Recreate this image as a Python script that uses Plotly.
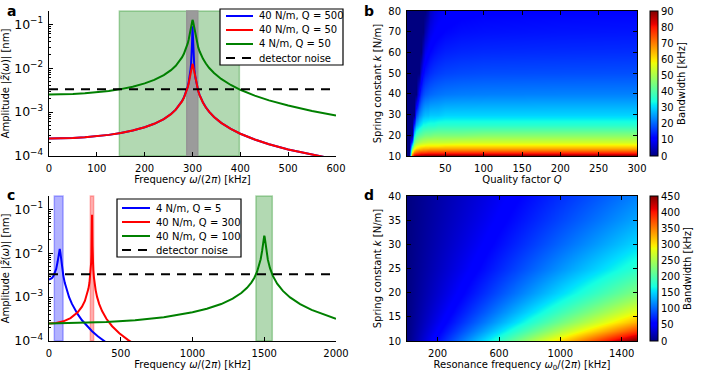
import plotly.graph_objects as go

# ---- panel a: response curves, resonance 300 kHz ----
freq_a = [0, 25, 50, 75, 100, 125, 150, 175, 200, 220, 240, 255, 265, 272, 278, 282, 285, 288, 290, 292, 294, 296, 297, 298,
          299, 300, 301, 302, 303, 304, 306, 308, 310, 312, 315, 318, 322, 328, 335, 345, 360, 380, 400, 430, 460, 500, 550, 600]
amp_a_k40_q500 = [2.5e-4, 2.517e-4, 2.571e-4, 2.667e-4, 2.813e-4, 3.025e-4, 3.333e-4, 3.79e-4, 4.5e-4, 5.409e-4, 6.944e-4,
                  9.009e-4, 1.138e-3, 1.404e-3, 1.769e-3, 2.148e-3, 2.564e-3, 3.188e-3, 3.809e-3, 4.749e-3, 6.305e-3, 9.409e-3,
                  1.25e-2, 1.86e-2, 3.594e-2, 9.0e-2, 3.585e-2, 1.848e-2, 1.238e-2, 9.29e-3, 6.18e-3, 4.623e-3, 3.687e-3,
                  3.063e-3, 2.439e-3, 2.022e-3, 1.644e-3, 1.28e-3, 1.012e-3, 7.752e-4, 5.682e-4, 4.136e-4, 3.214e-4, 2.371e-4,
                  1.85e-4, 1.406e-4, 1.059e-4, 8.333e-5]
amp_a_k40_q50 = [2.5e-4, 2.517e-4, 2.571e-4, 2.667e-4, 2.813e-4, 3.025e-4, 3.333e-4, 3.79e-4, 4.5e-4, 5.407e-4, 6.937e-4,
                 8.99e-4, 1.134e-3, 1.397e-3, 1.754e-3, 2.12e-3, 2.517e-3, 3.097e-3, 3.656e-3, 4.457e-3, 5.659e-3, 7.569e-3,
                 8.906e-3, 1.046e-2, 1.19e-2, 1.25e-2, 1.182e-2, 1.034e-2, 8.77e-3, 7.434e-3, 5.524e-3, 4.325e-3, 3.528e-3,
                 2.969e-3, 2.389e-3, 1.994e-3, 1.628e-3, 1.272e-3, 1.008e-3, 7.733e-4, 5.673e-4, 4.136e-4, 3.214e-4, 2.371e-4,
                 1.85e-4, 1.406e-4, 1.059e-4, 8.333e-5]
amp_a_k4_q50 = [2.5e-3, 2.517e-3, 2.571e-3, 2.667e-3, 2.813e-3, 3.025e-3, 3.333e-3, 3.79e-3, 4.5e-3, 5.407e-3, 6.937e-3,
                8.99e-3, 1.134e-2, 1.397e-2, 1.754e-2, 2.12e-2, 2.517e-2, 3.097e-2, 3.656e-2, 4.457e-2, 5.659e-2, 7.569e-2,
                8.906e-2, 1.046e-1, 1.19e-1, 1.25e-1, 1.182e-1, 1.034e-1, 8.77e-2, 7.434e-2, 5.524e-2, 4.325e-2, 3.528e-2,
                2.969e-2, 2.389e-2, 1.994e-2, 1.628e-2, 1.272e-2, 1.008e-2, 7.733e-3, 5.673e-3, 4.136e-3, 3.214e-3, 2.371e-3,
                1.85e-3, 1.406e-3, 1.059e-3, 8.333e-4]
labels_a = ["40 N/m, Q = 500", "40 N/m, Q = 50", "4 N/m, Q = 50"]
band_a_lo = [147, 288]
band_a_hi = [398, 311]

# ---- panel c: three different cantilevers ----
freq_c_blue = [0, 10, 20, 30, 40, 50, 60, 65, 70, 75, 80, 85, 90, 100, 110, 125, 140, 160, 180, 200, 230, 260, 300, 340, 380, 420]
amp_c_blue = [2.5e-3, 2.544e-3, 2.687e-3, 2.963e-3, 3.456e-3, 4.376e-3, 6.346e-3, 8.243e-3, 1.102e-2, 1.25e-2, 9.844e-3,
              6.873e-3, 4.988e-3, 3.041e-3, 2.105e-3, 1.382e-3, 9.951e-4, 6.99e-4, 5.226e-4, 4.075e-4, 2.967e-4, 2.265e-4,
              1.664e-4, 1.277e-4, 1.012e-4, 8.23e-5]
freq_c_red = [0, 50, 100, 150, 200, 230, 250, 265, 275, 282, 287, 291, 294, 296, 297.5, 298.5, 299.3, 300, 300.7, 301.5, 302.5,
              304, 306, 309, 313, 318, 325, 335, 350, 370, 400, 440, 490, 550, 600]
amp_c_red = [2.5e-4, 2.57e-4, 2.81e-4, 3.33e-4, 4.5e-4, 6.06e-4, 8.18e-4, 1.14e-3, 1.56e-3, 2.15e-3, 2.95e-3, 4.22e-3, 6.29e-3,
             9.37e-3, 1.48e-2, 2.38e-2, 4.37e-2, 7.5e-2, 4.35e-2, 2.37e-2, 1.46e-2, 9.24e-3, 6.17e-3, 4.1e-3, 2.82e-3, 2.02e-3,
             1.44e-3, 1.01e-3, 6.92e-4, 4.8e-4, 3.21e-4, 2.17e-4, 1.5e-4, 1.06e-4, 8.33e-5]
freq_c_green = [0, 200, 400, 600, 800, 1000, 1100, 1200, 1280, 1340, 1380, 1410, 1430, 1450, 1465, 1475, 1485, 1492, 1497, 1500,
                1503, 1508, 1515, 1525, 1540, 1560, 1590, 1630, 1680, 1750, 1830, 1920, 2000]
amp_c_green = [2.5e-4, 2.55e-4, 2.69e-4, 2.98e-4, 3.49e-4, 4.5e-4, 5.41e-4, 6.94e-4, 9.19e-4, 1.24e-3, 1.62e-3, 2.14e-3, 2.73e-3,
               3.77e-3, 5.3e-3, 7.25e-3, 1.12e-2, 1.72e-2, 2.33e-2, 2.5e-2, 2.32e-2, 1.7e-2, 1.11e-2, 7.12e-3, 4.54e-3, 3.04e-3,
               2.02e-3, 1.38e-3, 9.82e-4, 6.92e-4, 5.12e-4, 3.92e-4, 3.21e-4]
labels_c = ["4 N/m, Q = 5", "40 N/m, Q = 300", "40 N/m, Q = 100"]
band_c_lo = [37, 288, 1442]
band_c_hi = [98, 311, 1556]

detector_noise = 3.3e-3

# ---- panel b: bandwidth [kHz] vs quality factor and spring constant ----
q_factor = [0, 3, 6, 9, 12, 15, 18, 21, 24, 27, 30, 35, 40, 50, 70, 100, 200, 300]
k_b = [10, 11, 12, 13, 14, 15, 17, 20, 25, 30, 40, 50, 60, 70, 80]
bw_b = [
    [0, 0, 77, 86, 89, 90, 90, 91, 91, 91, 91, 92, 92, 92, 92, 92, 92, 92],
    [0, 0, 67, 77, 80, 81, 82, 82, 83, 83, 83, 83, 83, 83, 83, 83, 83, 83],
    [0, 0, 58, 69, 72, 74, 75, 75, 75, 76, 76, 76, 76, 76, 76, 76, 76, 76],
    [0, 0, 50, 62, 66, 68, 68, 69, 69, 70, 70, 70, 70, 70, 70, 70, 70, 70],
    [0, 0, 42, 56, 60, 62, 63, 64, 64, 64, 65, 65, 65, 65, 65, 65, 65, 65],
    [0, 0, 34, 51, 56, 58, 59, 59, 60, 60, 60, 60, 60, 61, 61, 61, 61, 61],
    [0, 0, 19, 42, 47, 50, 51, 52, 52, 53, 53, 53, 53, 53, 54, 54, 54, 54],
    [0, 0, 0, 31, 38, 41, 42, 43, 44, 44, 44, 45, 45, 45, 45, 46, 46, 46],
    [0, 0, 0, 15, 26, 30, 32, 34, 34, 35, 35, 35, 36, 36, 36, 36, 36, 36],
    [0, 0, 0, 0, 17, 23, 25, 27, 28, 28, 29, 29, 29, 30, 30, 30, 30, 30],
    [0, 0, 0, 0, 0, 10.8, 15.4, 17.7, 19.0, 19.8, 20.4, 21.0, 21.4, 21.9, 22.3, 22.5, 22.7, 22.7],
    [0, 0, 0, 0, 0, 0, 7.3, 11.3, 13.2, 14.4, 15.2, 16.1, 16.6, 17.2, 17.7, 18.0, 18.1, 18.2],
    [0, 0, 0, 0, 0, 0, 0, 5.1, 8.6, 10.3, 11.4, 12.5, 13.2, 14.0, 14.6, 14.9, 15.1, 15.2],
    [0, 0, 0, 0, 0, 0, 0, 0, 3.5, 6.7, 8.3, 9.8, 10.6, 11.5, 12.3, 12.6, 12.9, 13.0],
    [0, 0, 0, 0, 0, 0, 0, 0, 0, 2.4, 5.4, 7.5, 8.6, 9.7, 10.6, 11.0, 11.3, 11.4],
]

# ---- panel d: bandwidth [kHz] vs resonance frequency and spring constant ----
f_res = [0, 250, 500, 750, 1000, 1250, 1500]
k_d = [10, 12, 14, 16, 18, 20, 25, 30, 35, 40]
bw_d = [
    [0, 76.7, 153.3, 230.0, 306.6, 383.3, 459.9],
    [0, 63.7, 127.3, 191.0, 254.6, 318.3, 381.9],
    [0, 54.4, 108.9, 163.3, 217.7, 272.1, 326.6],
    [0, 47.6, 95.1, 142.7, 190.2, 237.8, 285.3],
    [0, 42.2, 84.5, 126.7, 168.9, 211.1, 253.4],
    [0, 38.0, 76.0, 113.9, 151.9, 189.9, 227.9],
    [0, 30.4, 60.7, 91.1, 121.4, 151.8, 182.1],
    [0, 25.3, 50.6, 75.8, 101.1, 126.4, 151.7],
    [0, 21.7, 43.4, 65.0, 86.7, 108.4, 130.1],
    [0, 19.0, 38.0, 56.9, 75.9, 94.9, 113.9],
]

FONT = "DejaVu Sans"
W, H = 708, 375
BLUE, RED, GREEN = "#0000ff", "#ff0000", "#008000"
NOISE_DASH = "9px,7px"
JET = [[0, "rgb(0,0,128)"], [0.11, "rgb(0,0,255)"], [0.125, "rgb(0,0,255)"], [0.34, "rgb(0,219,255)"],
       [0.35, "rgb(0,230,247)"], [0.375, "rgb(21,255,226)"], [0.64, "rgb(239,255,8)"], [0.65, "rgb(247,245,0)"],
       [0.66, "rgb(255,236,0)"], [0.89, "rgb(255,19,0)"], [0.91, "rgb(232,0,0)"], [1, "rgb(128,0,0)"]]


def px_x(x0, x1):
    return [x0 / W, x1 / W]


def px_y(y_top, y_bot):
    return [1 - y_bot / H, 1 - y_top / H]


fig = go.Figure()

# panel a curves
for y, color in zip([amp_a_k40_q500, amp_a_k40_q50, amp_a_k4_q50], [BLUE, RED, GREEN]):
    fig.add_trace(go.Scatter(x=freq_a, y=y, mode="lines", line=dict(color=color, width=2), xaxis="x", yaxis="y"))
fig.add_trace(go.Scatter(x=[0, 600], y=[detector_noise, detector_noise], mode="lines",
                         line=dict(color="black", width=2, dash=NOISE_DASH), xaxis="x", yaxis="y"))

# panel c curves
for f, y, color in zip([freq_c_blue, freq_c_red, freq_c_green], [amp_c_blue, amp_c_red, amp_c_green], [BLUE, RED, GREEN]):
    fig.add_trace(go.Scatter(x=f, y=y, mode="lines", line=dict(color=color, width=2), xaxis="x3", yaxis="y3"))
fig.add_trace(go.Scatter(x=[0, 2000], y=[detector_noise, detector_noise], mode="lines",
                         line=dict(color="black", width=2, dash=NOISE_DASH), xaxis="x3", yaxis="y3"))

cbar = dict(thickness=8, lenmode="pixels", len=145, xref="paper", x=650 / W, xanchor="left", xpad=0, ypad=0,
            outlinecolor="black", outlinewidth=1, ticks="", tickfont=dict(family=FONT, size=10, color="black"),
            title=dict(text="Bandwidth [kHz]", side="right", font=dict(family=FONT, size=10, color="black")))

fig.add_trace(go.Heatmap(x=q_factor, y=k_b, z=bw_b, xaxis="x2", yaxis="y2", zsmooth="best", colorscale=JET,
                         zmin=0, zmax=90,
                         colorbar=dict(cbar, y=1 - 83.5 / H, yanchor="middle", tickvals=list(range(0, 91, 10)))))
fig.add_trace(go.Heatmap(x=f_res, y=k_d, z=bw_d, xaxis="x4", yaxis="y4", zsmooth="best", colorscale=JET,
                         zmin=0, zmax=450,
                         colorbar=dict(cbar, y=1 - 268.5 / H, yanchor="middle", tickvals=list(range(0, 451, 50)))))

# bands where the signal exceeds the detector noise
shapes = []
band_a_fill = ["rgba(0,128,0,0.3)", "rgb(155,155,155)"]
band_a_line = ["rgba(0,128,0,0.3)", "rgb(150,150,150)"]
for lo, hi, fill, edge in zip(band_a_lo, band_a_hi, band_a_fill, band_a_line):
    shapes.append(dict(type="rect", xref="x", yref="y domain", x0=lo, x1=hi, y0=0, y1=1, layer="below",
                       fillcolor=fill, line=dict(color=edge, width=1.5)))
for lo, hi, fill in zip(band_c_lo, band_c_hi, ["rgba(0,0,255,0.3)", "rgba(255,0,0,0.3)", "rgba(0,128,0,0.3)"]):
    shapes.append(dict(type="rect", xref="x3", yref="y3 domain", x0=lo, x1=hi, y0=0, y1=1, layer="below",
                       fillcolor=fill, line=dict(color=fill, width=1.5)))

tick_font = dict(family=FONT, size=10, color="black")
title_font = dict(family=FONT, size=10, color="black")
common = dict(showline=True, linecolor="black", linewidth=1, ticks="inside", ticklen=4, tickcolor="black",
              showgrid=False, zeroline=False, tickfont=tick_font, ticklabelstandoff=3)
log_y = dict(common, type="log", range=[-4, -0.699], tickmode="linear", tick0=0, dtick=1, exponentformat="power",
             minor=dict(ticks="inside", ticklen=2, tickcolor="black", showgrid=False),
             title=dict(text="Amplitude |<i>z̃</i>(<i>ω</i>)| [nm]", font=title_font, standoff=4))
box = dict(common, mirror="ticks")
freq_title = "Frequency <i>ω</i>/(2<i>π</i>) [kHz]"

letters = [("a", 11, 11), ("b", 369, 11), ("c", 11, 195), ("d", 369, 195)]
annotations = [dict(text="<b>%s</b>" % t, x=x / W, y=1 - y / H, xref="paper", yref="paper", showarrow=False,
                    font=dict(family=FONT, size=14, color="black"), xanchor="center", yanchor="middle")
               for t, x, y in letters]


def add_legend(box_px, rows, line_x, text_x, row_y0, row_dy):
    """Matplotlib-like legend box drawn in paper space."""
    x0, y0, x1, y1 = box_px
    shapes.append(dict(type="rect", xref="paper", yref="paper", x0=x0 / W, x1=x1 / W, y0=1 - y1 / H, y1=1 - y0 / H,
                       fillcolor="white", line=dict(color="black", width=1.2), layer="above"))
    for i, (label, color, dash) in enumerate(rows):
        yy = 1 - (row_y0 + i * row_dy) / H
        shapes.append(dict(type="line", xref="paper", yref="paper", x0=line_x[0] / W, x1=line_x[1] / W, y0=yy, y1=yy,
                           line=dict(color=color, width=2, dash=dash), layer="above"))
        annotations.append(dict(text=label, x=text_x / W, y=yy, xref="paper", yref="paper", showarrow=False,
                                xanchor="left", yanchor="middle", font=dict(family=FONT, size=10, color="black")))


add_legend((220, 9, 343, 65), [(labels_a[0], BLUE, "solid"), (labels_a[1], RED, "solid"), (labels_a[2], GREEN, "solid"),
                              ("detector noise", "black", NOISE_DASH)], (226, 253), 257, 16, 14)
add_legend((117, 199, 241, 257), [(labels_c[0], BLUE, "solid"), (labels_c[1], RED, "solid"), (labels_c[2], GREEN, "solid"),
                                 ("detector noise", "black", NOISE_DASH)], (122, 150), 154, 208, 14)

fig.update_layout(
    width=W, height=H, margin=dict(l=0, r=0, t=0, b=0, autoexpand=False), showlegend=False,
    paper_bgcolor="white", plot_bgcolor="white", font=dict(family=FONT, size=10, color="black"),
    xaxis=dict(common, domain=px_x(49, 336), range=[0, 600], tickvals=list(range(0, 601, 100)), anchor="y",
               title=dict(text=freq_title, font=title_font, standoff=2)),
    yaxis=dict(log_y, domain=px_y(11, 156), anchor="x"),
    xaxis2=dict(box, domain=px_x(407, 637), range=[0, 300], tickvals=list(range(50, 301, 50)), anchor="y2",
                title=dict(text="Quality factor <i>Q</i>", font=title_font, standoff=2)),
    yaxis2=dict(box, domain=px_y(11, 156), range=[10, 80], tickvals=list(range(10, 81, 10)), anchor="x2",
                title=dict(text="Spring constant <i>k</i> [N/m]", font=title_font, standoff=4)),
    xaxis3=dict(common, domain=px_x(49, 336), range=[0, 2000], tickvals=list(range(0, 2001, 500)), anchor="y3",
                title=dict(text=freq_title, font=title_font, standoff=2)),
    yaxis3=dict(log_y, domain=px_y(196, 341), anchor="x3"),
    xaxis4=dict(box, domain=px_x(407, 637), range=[0, 1500], tickvals=[200, 600, 1000, 1400], anchor="y4",
                title=dict(text="Resonance frequency <i>ω</i><sub>0</sub>/(2<i>π</i>) [kHz]", font=title_font, standoff=2)),
    yaxis4=dict(box, domain=px_y(196, 341), range=[10, 40], tickvals=list(range(10, 41, 5)), anchor="x4",
                title=dict(text="Spring constant <i>k</i> [N/m]", font=title_font, standoff=4)),
    shapes=shapes,
    annotations=annotations,
)

# the page's default body margin would shift the 708x375 figure, so drop it
fig.write_html("out.html", config={"displayModeBar": False},
               post_script="document.body.style.margin = '0';")
